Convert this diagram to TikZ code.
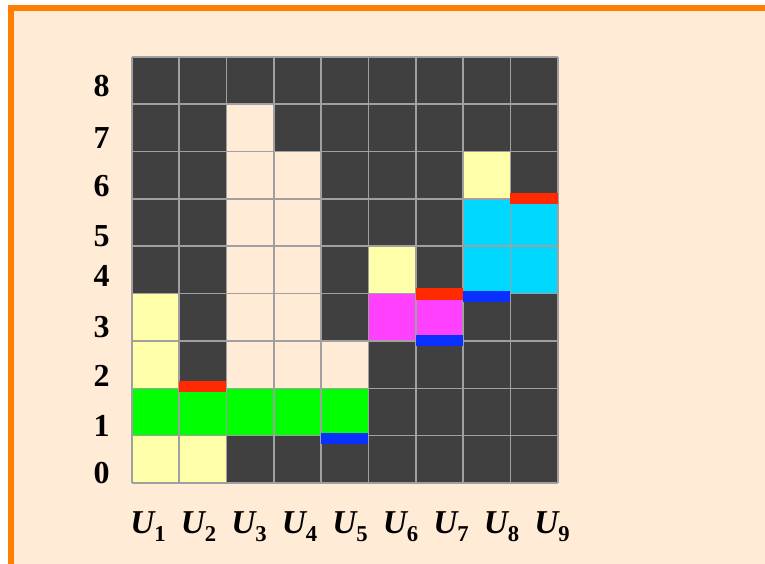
\documentclass[tikz,border=0pt]{standalone}
\usepackage{fontspec}
\setmainfont{Liberation Serif}
\usetikzlibrary{positioning}
\definecolor{gdDark}   {HTML}{404040}
\definecolor{gdCream}  {HTML}{FFEBD6}
\definecolor{gdYellow} {HTML}{FFFFAA}
\definecolor{gdGreen}  {HTML}{00FF00}
\definecolor{gdMagenta}{HTML}{FF40FF}
\definecolor{gdCyan}   {HTML}{00D8FF}
\definecolor{gdRed}    {HTML}{FF2A00}
\definecolor{gdBlue}   {HTML}{0A30FF}
\definecolor{gdGrid}   {HTML}{A0A0A0}
\definecolor{gdOrange} {HTML}{FF8000}
\newcommand{\ulabel}[1]{{\bfseries\itshape U}\raisebox{-6pt}{\fontsize{17}{17}\selectfont\bfseries #1}}

\begin{document}
\begin{tikzpicture}[x=0.75pt,y=0.75pt,
    rowlabel/.style={anchor=base,inner sep=0pt,font=\fontsize{24}{24}\selectfont\bfseries},
    collabel/.style={anchor=base,inner sep=0pt,font=\fontsize{25}{25}\selectfont}]
    \useasboundingbox (0,0) rectangle (765,564);
    \fill[white] (0,0) rectangle (765,564);
    \fill[gdCream] (11,0) rectangle (765,556);
    \draw[gdOrange,line width=4.5pt] (11,-5) -- (11,556) -- (770,556);

    % cells, one column per list, bottom row first
    \begin{scope}[shift={(131.7,81)},x=35.51pt,y=35.51pt]
      \foreach \cells [count=\i from 0] in {
          {gdYellow,gdGreen,gdYellow,gdYellow,gdDark,gdDark,gdDark,gdDark,gdDark},
          {gdYellow,gdGreen,gdDark,gdDark,gdDark,gdDark,gdDark,gdDark,gdDark},
          {gdDark,gdGreen,gdCream,gdCream,gdCream,gdCream,gdCream,gdCream,gdDark},
          {gdDark,gdGreen,gdCream,gdCream,gdCream,gdCream,gdCream,gdDark,gdDark},
          {gdDark,gdGreen,gdCream,gdDark,gdDark,gdDark,gdDark,gdDark,gdDark},
          {gdDark,gdDark,gdDark,gdMagenta,gdYellow,gdDark,gdDark,gdDark,gdDark},
          {gdDark,gdDark,gdDark,gdMagenta,gdDark,gdDark,gdDark,gdDark,gdDark},
          {gdDark,gdDark,gdDark,gdDark,gdCyan,gdCyan,gdYellow,gdDark,gdDark},
          {gdDark,gdDark,gdDark,gdDark,gdCyan,gdCyan,gdDark,gdDark,gdDark}}
        {\foreach \c [count=\j from 0] in \cells
          {\fill[\c] (\i,\j) rectangle ++(1,1);}}
      \draw[gdGrid,line width=1.2pt] (0,0) grid[step={(1,1)}] (9,9);
      \foreach \i/\y/\c in {1/1.92/gdRed,4/0.82/gdBlue,6/3.87/gdRed,
                            6/2.89/gdBlue,7/3.82/gdBlue,8/5.89/gdRed}
        \fill[\c] (\i,\y) rectangle ++(1,0.24);
    \end{scope}

    \foreach \k/\y in {8/467.3,7/415.7,6/367.3,5/317.3,4/277,3/226,2/177,1/127,0/80}
      \node[rowlabel] (row\k) at (101.5,\y) {\k};
    \foreach \i in {1,...,9}
      \node[collabel] (col\i) at ({148+(\i-1)*50.5},30.7) {\ulabel{\i}};
  \end{tikzpicture}
\end{document}
